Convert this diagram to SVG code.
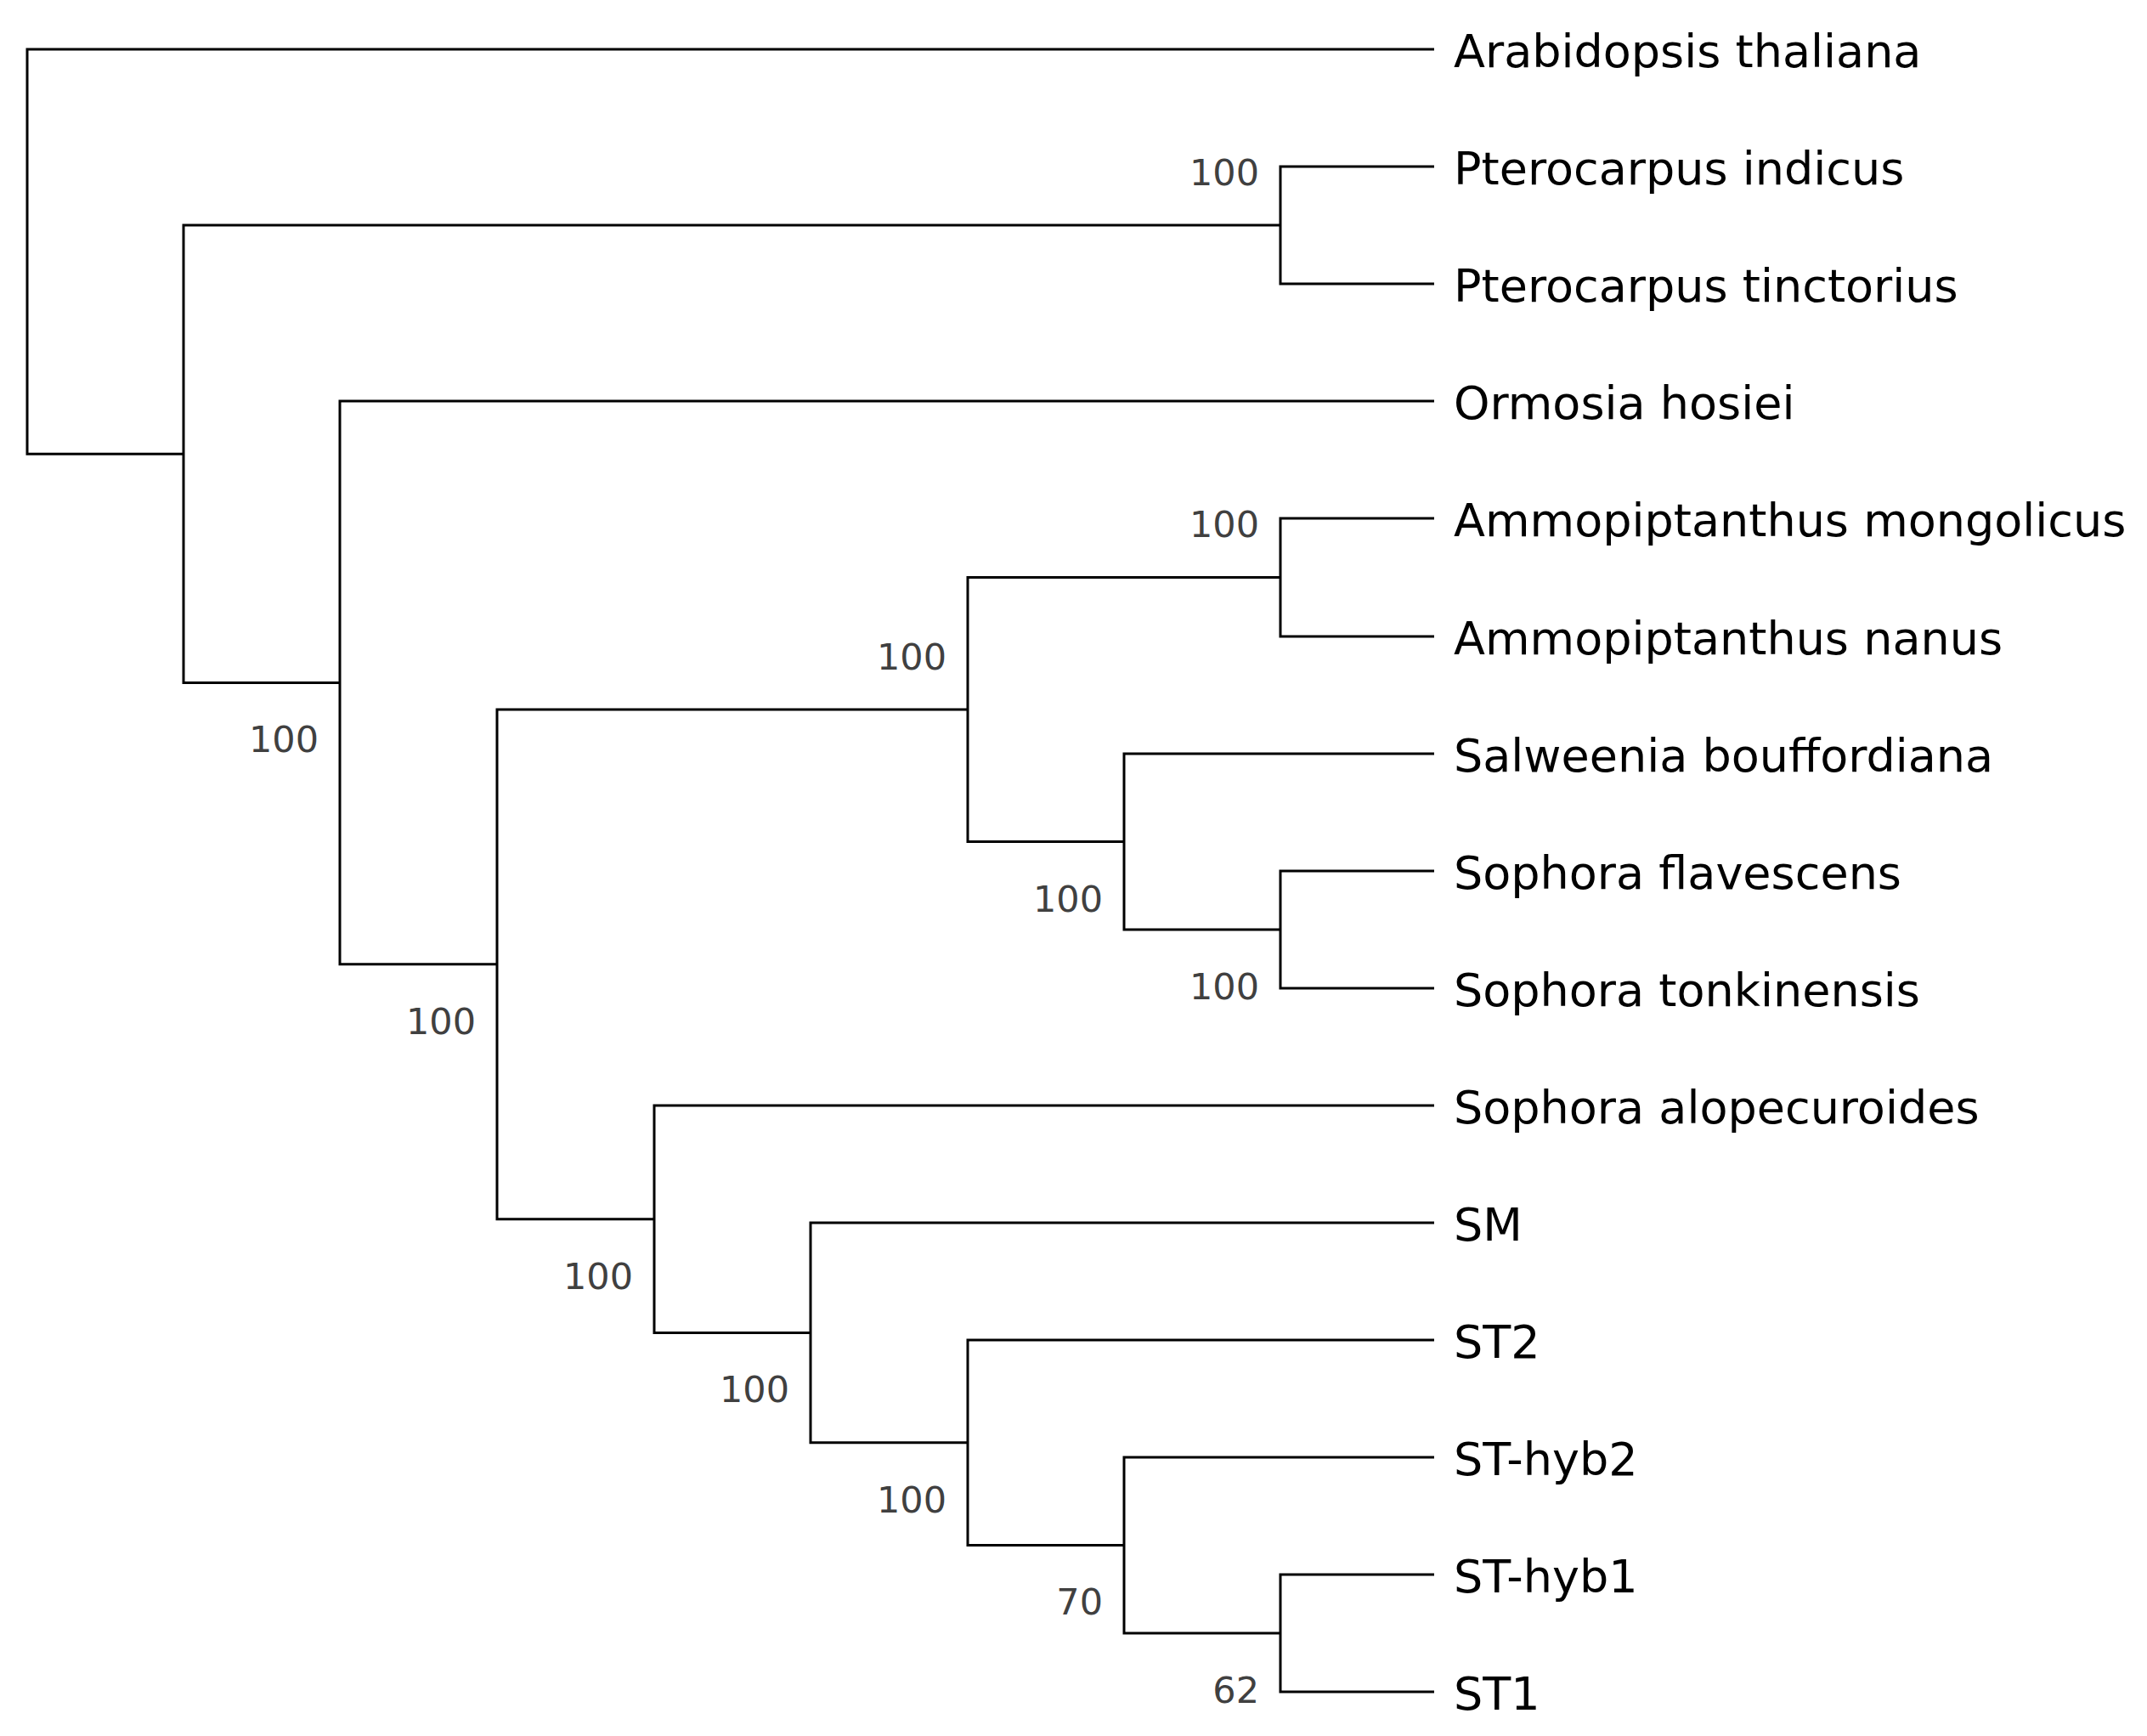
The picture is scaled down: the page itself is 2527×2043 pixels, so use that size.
<svg xmlns="http://www.w3.org/2000/svg" width="2527" height="2043" viewBox="0 0 2527 2043">
<style>
.br{fill:none;stroke:#000;stroke-width:3;stroke-linejoin:miter}
.leaf{font-family:"DejaVu Sans",sans-serif;font-size:54px;fill:#000}
.bs{font-family:"DejaVu Sans",sans-serif;font-size:43px;fill:#404040;text-anchor:end}
</style>
<rect width="2527" height="2043" fill="#fff"/>
<g id="connectors">
<path class="br" d="M1688 196 H1507 V334 H1688"/>
<path class="br" d="M1688 610 H1507 V749 H1688"/>
<path class="br" d="M1688 1025 H1507 V1163 H1688"/>
<path class="br" d="M1688 887 H1323 V1094 H1507"/>
<path class="br" d="M1507 679.5 H1139 V990.5 H1323"/>
<path class="br" d="M1688 1853 H1507 V1991 H1688"/>
<path class="br" d="M1688 1715 H1323 V1922 H1507"/>
<path class="br" d="M1688 1577 H1139 V1818.5 H1323"/>
<path class="br" d="M1688 1439 H954 V1697.75 H1139"/>
<path class="br" d="M1688 1301 H770 V1568.4 H954"/>
<path class="br" d="M1139 835 H585 V1434.7 H770"/>
<path class="br" d="M1688 472 H400 V1134.85 H585"/>
<path class="br" d="M1507 265 H216 V803.4 H400"/>
<path class="br" d="M1688 58 H32 V534.2 H216"/>
</g>
<g id="leaves">
<g id="leaf-arabidopsis-thaliana"><text class="leaf" x="1711" y="79">Arabidopsis thaliana</text></g>
<g id="leaf-pterocarpus-indicus"><text class="leaf" x="1711" y="217">Pterocarpus indicus</text></g>
<g id="leaf-pterocarpus-tinctorius"><text class="leaf" x="1711" y="355">Pterocarpus tinctorius</text></g>
<g id="leaf-ormosia-hosiei"><text class="leaf" x="1711" y="493">Ormosia hosiei</text></g>
<g id="leaf-ammopiptanthus-mongolicus"><text class="leaf" x="1711" y="631">Ammopiptanthus mongolicus</text></g>
<g id="leaf-ammopiptanthus-nanus"><text class="leaf" x="1711" y="770">Ammopiptanthus nanus</text></g>
<g id="leaf-salweenia-bouffordiana"><text class="leaf" x="1711" y="908">Salweenia bouffordiana</text></g>
<g id="leaf-sophora-flavescens"><text class="leaf" x="1711" y="1046">Sophora flavescens</text></g>
<g id="leaf-sophora-tonkinensis"><text class="leaf" x="1711" y="1184">Sophora tonkinensis</text></g>
<g id="leaf-sophora-alopecuroides"><text class="leaf" x="1711" y="1322">Sophora alopecuroides</text></g>
<g id="leaf-sm"><text class="leaf" x="1711" y="1460">SM</text></g>
<g id="leaf-st2"><text class="leaf" x="1711" y="1598">ST2</text></g>
<g id="leaf-st-hyb2"><text class="leaf" x="1711" y="1736">ST-hyb2</text></g>
<g id="leaf-st-hyb1"><text class="leaf" x="1711" y="1874">ST-hyb1</text></g>
<g id="leaf-st1"><text class="leaf" x="1711" y="2012">ST1</text></g>
</g>
<g id="support-values">
<g id="node-pterocarpus"><text class="bs" x="1482" y="218">100</text></g>
<g id="node-ammopiptanthus"><text class="bs" x="1482" y="632">100</text></g>
<g id="node-ammo-salweenia"><text class="bs" x="1114" y="788">100</text></g>
<g id="node-n3"><text class="bs" x="375" y="885">100</text></g>
<g id="node-salweenia"><text class="bs" x="1298" y="1073">100</text></g>
<g id="node-sophora-ft"><text class="bs" x="1482" y="1176">100</text></g>
<g id="node-n4"><text class="bs" x="560" y="1217">100</text></g>
<g id="node-alopecuroides"><text class="bs" x="745" y="1517">100</text></g>
<g id="node-sm"><text class="bs" x="929" y="1650">100</text></g>
<g id="node-st2"><text class="bs" x="1114" y="1780">100</text></g>
<g id="node-st-hyb2"><text class="bs" x="1298" y="1900">70</text></g>
<g id="node-st-hyb1"><text class="bs" x="1482" y="2004">62</text></g>
</g>
</svg>
